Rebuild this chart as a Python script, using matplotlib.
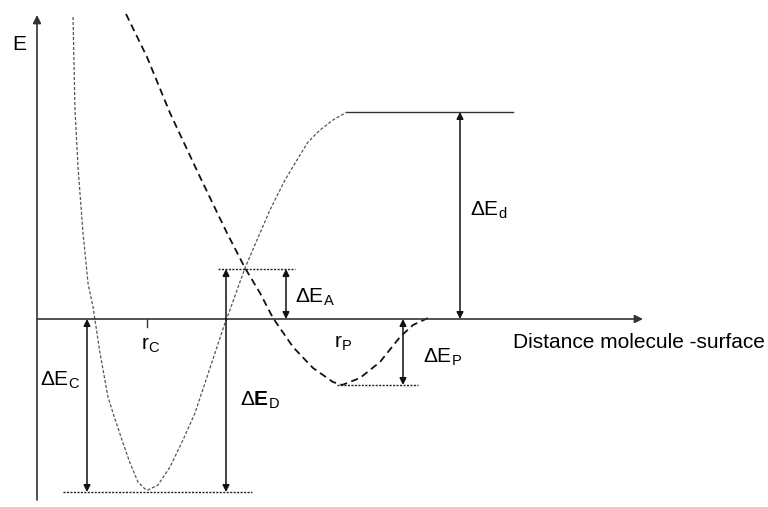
import matplotlib.pyplot as plt
import numpy as np

plt.rcParams['font.family'] = ['Liberation Sans', 'DejaVu Sans']
plt.rcParams['mathtext.fontset'] = 'custom'
plt.rcParams['mathtext.rm'] = 'Liberation Sans'
plt.rcParams['mathtext.it'] = 'Liberation Sans'
plt.rcParams['mathtext.bf'] = 'Liberation Sans:bold'

# Chemisorption potential (distance, energy), arbitrary units
chem_r = [36, 38, 41, 46, 51, 56, 58, 63, 71, 76, 85, 93, 101, 108, 111, 121, 133, 146,
          158, 168, 188, 190, 208, 220, 233, 248, 260, 271, 283, 296, 310, 476]
chem_E = [302, 209, 152, 86, 36, 12, -1, -34, -78, -94, -121, -144, -163, -170, -171, -166,
          -148, -121, -94, -64, -4, 1, 51, 79, 109, 139, 159, 177, 189, 199, 207, 207]

# Physisorption potential
phys_r = [89, 110, 133, 163, 190, 208, 223, 236, 256, 276, 296, 305, 323, 343, 363, 376, 391]
phys_E = [305, 262, 206, 142, 86, 51, 26, 1, -28, -49, -63, -66, -59, -43, -18, -6, 1]

# Energy levels and marked distances
E_A = 50
E_C = -173
E_d = 207
E_P = -66
r_C = 110
r_P = 305

fig = plt.figure(figsize=(7.68, 5.07), dpi=100)
ax = fig.add_axes([0, 0, 1, 1])
ax.set_xlim(-37, 731)
ax.set_ylim(-188, 319)
ax.axis('off')

axis_col = '#333333'
# energy and distance axes
ax.annotate('', xy=(0, 304), xytext=(0, -181),
            arrowprops=dict(arrowstyle='-|>', color=axis_col, lw=1.2, mutation_scale=12, shrinkA=0, shrinkB=0))
ax.annotate('', xy=(606, 0), xytext=(0, 0),
            arrowprops=dict(arrowstyle='-|>', color=axis_col, lw=1.2, mutation_scale=12, shrinkA=0, shrinkB=0))
ax.text(-25, 274, 'E', fontsize=15, va='center', ha='left')
ax.text(476, -23, 'Distance molecule -surface', fontsize=15, va='center', ha='left')

# potential curves
ax.plot(chem_r[:-1], chem_E[:-1], color='#555555', lw=0.9, linestyle=(0, (2.5, 1.5)))
ax.plot(chem_r[-2:], chem_E[-2:], color='#333333', lw=1.0)
ax.plot(phys_r, phys_E, color='#111111', lw=1.3, linestyle=(0, (4, 2.5)))

# reference levels
dot = dict(color='#222222', lw=1.0, linestyle=(0, (1.5, 1)))
ax.plot([181, 258], [E_A, E_A], **dot)
ax.plot([26, 215], [E_C, E_C], **dot)
ax.plot([300, 381], [E_P, E_P], **dot)

# r_C tick
ax.plot([r_C, r_C], [0, -8], color=axis_col, lw=1.0)
ax.text(r_C - 6, -26, r'$\mathrm{r}_\mathrm{C}$', fontsize=15, va='center', ha='left')
ax.text(r_P - 8, -24, r'$\mathrm{r}_\mathrm{P}$', fontsize=15, va='center', ha='left')

# energy difference arrows
arr = dict(arrowstyle='<|-|>', color='#111111', lw=1.1, mutation_scale=10, shrinkA=0, shrinkB=0)
ax.annotate('', xy=(50, E_C), xytext=(50, 0), arrowprops=arr)
ax.annotate('', xy=(189, E_C), xytext=(189, E_A), arrowprops=arr)
ax.annotate('', xy=(249, 0), xytext=(249, E_A), arrowprops=arr)
ax.annotate('', xy=(423, 0), xytext=(423, E_d), arrowprops=arr)
ax.annotate('', xy=(366, E_P), xytext=(366, 0), arrowprops=arr)

lab = dict(fontsize=15, va='center', ha='left')
ax.text(3, -61, r'$\Delta\mathrm{E}_\mathrm{C}$', **lab)
ax.text(203, -81, r'$\Delta\mathbf{E}_\mathrm{D}$', **lab)
ax.text(258, 22, r'$\Delta\mathrm{E}_\mathrm{A}$', **lab)
ax.text(433, 109, r'$\Delta\mathrm{E}_\mathrm{d}$', **lab)
ax.text(386, -38, r'$\Delta\mathrm{E}_\mathrm{P}$', **lab)

fig.savefig('out.png', dpi=100)
